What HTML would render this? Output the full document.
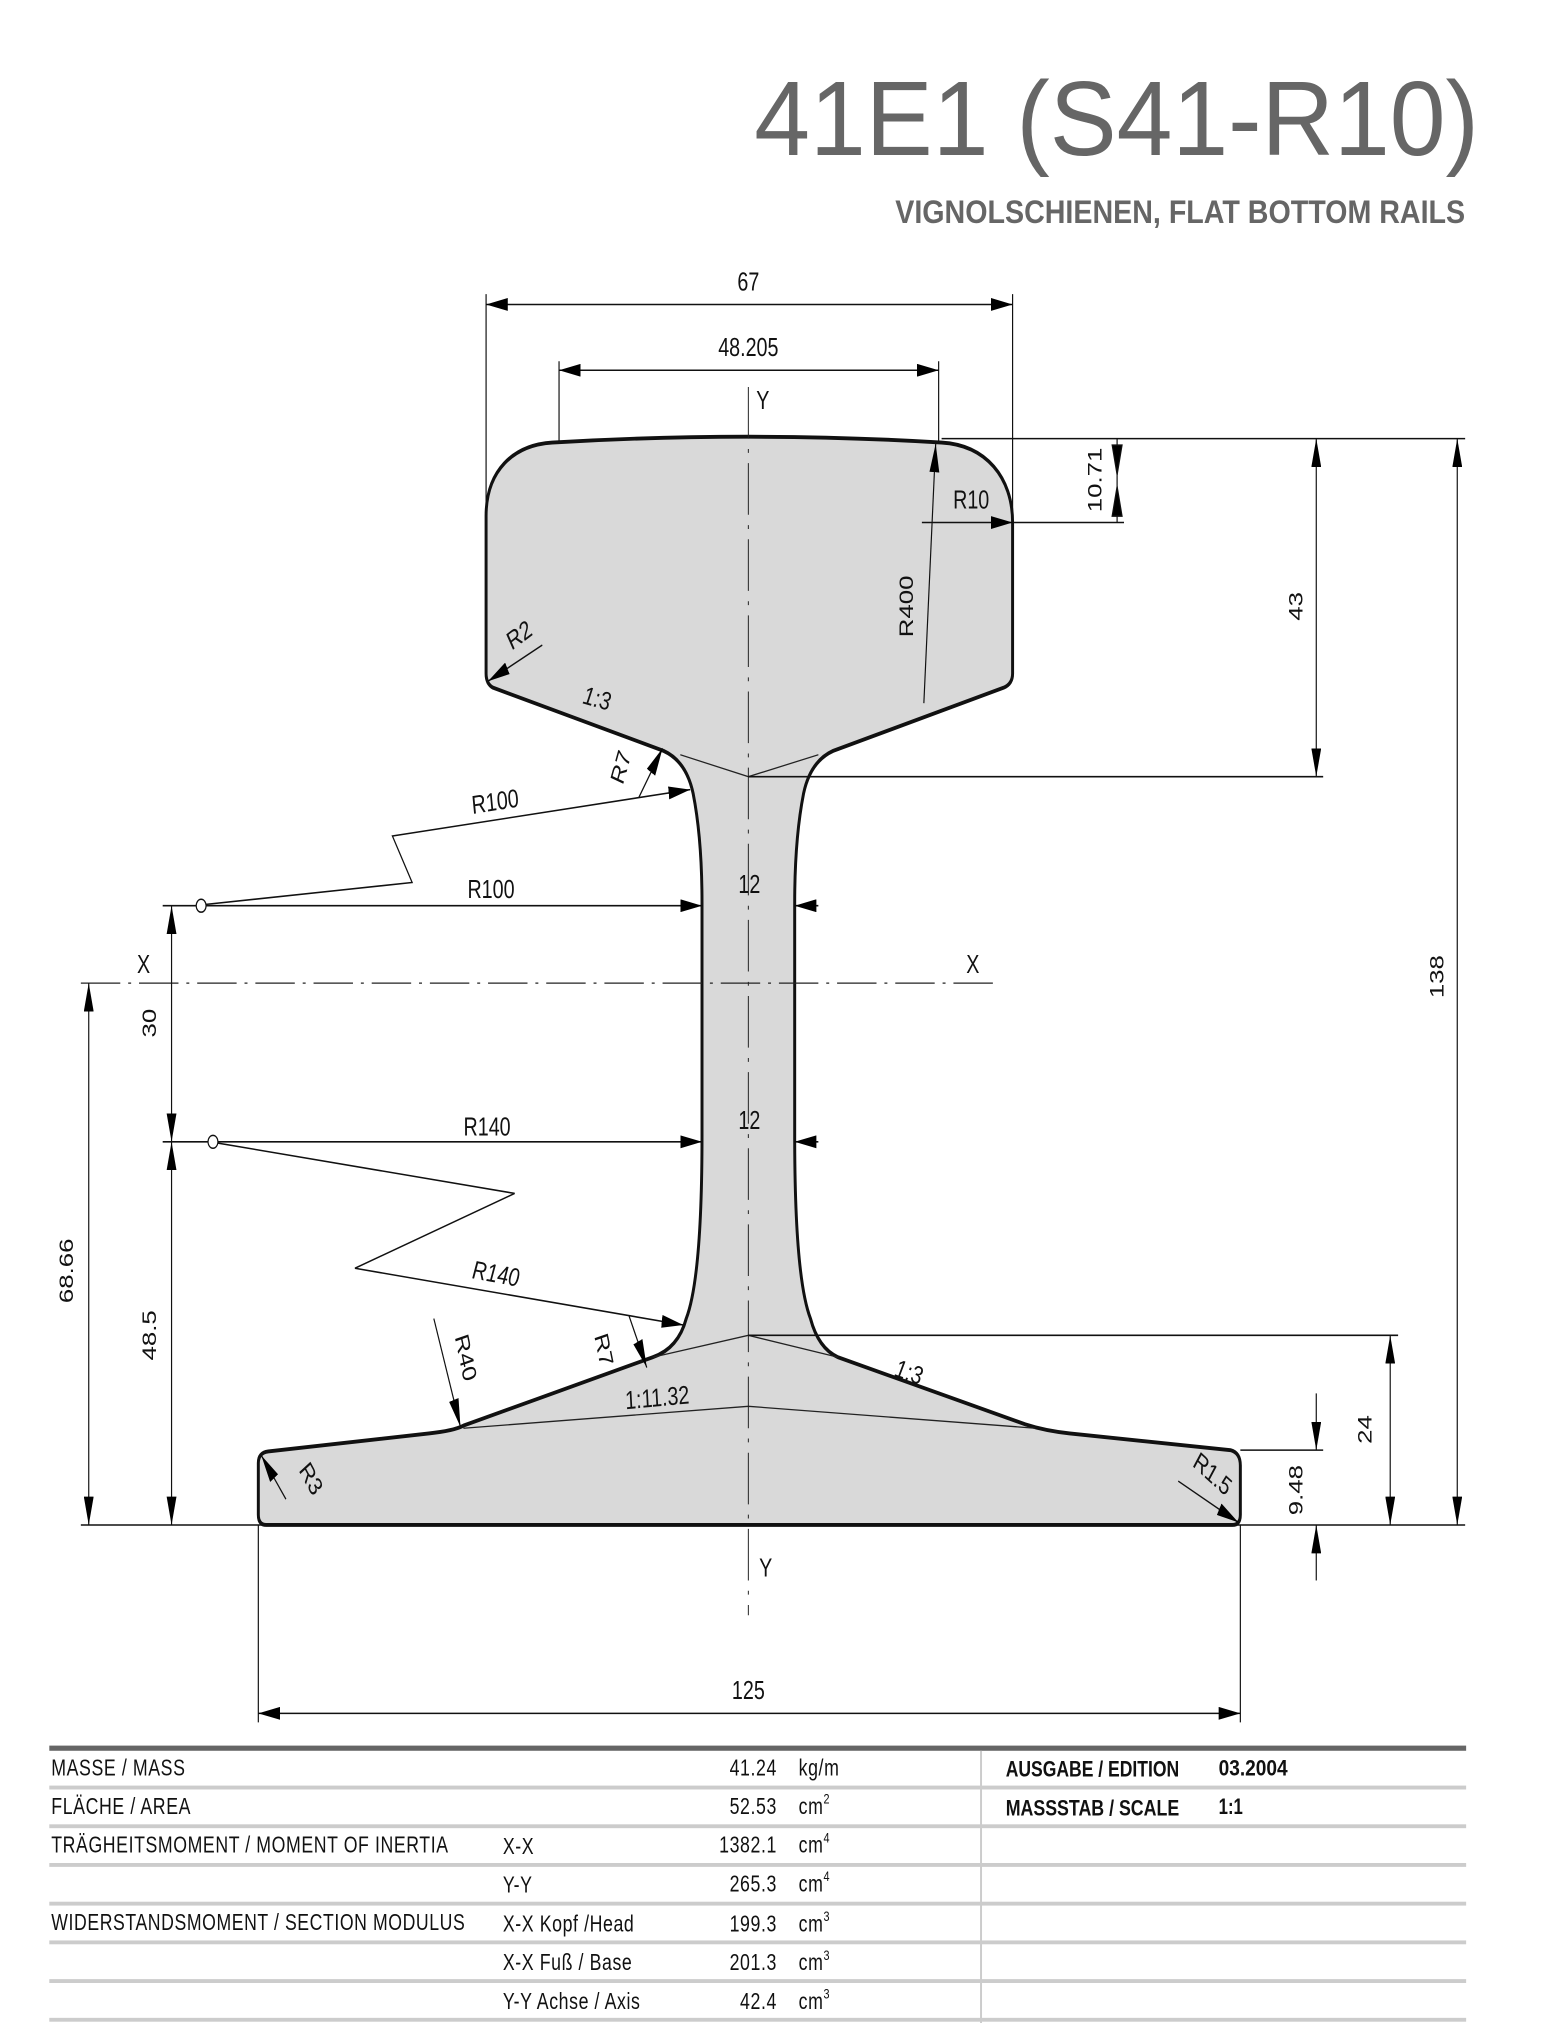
<!DOCTYPE html>
<html><head><meta charset="utf-8"><style>
html,body{margin:0;padding:0;background:#fff;}
svg{display:block;}
text{font-family:"Liberation Sans",sans-serif;}
</style></head><body>
<svg width="1546" height="2023" viewBox="0 0 1568 1568" preserveAspectRatio="none" xmlns="http://www.w3.org/2000/svg">
<defs>
<marker id="a" markerUnits="userSpaceOnUse" markerWidth="24" markerHeight="10" refX="22" refY="5" orient="auto"><path d="M0,0 L22,5 L0,10 Z" fill="#000"/></marker>
<marker id="s" markerUnits="userSpaceOnUse" markerWidth="24" markerHeight="10" refX="22" refY="5" orient="auto-start-reverse"><path d="M0,0 L22,5 L0,10 Z" fill="#000"/></marker>
</defs>
<rect width="1568" height="1568" fill="#fff"/>
<text x="765" y="120" font-size="82" fill="#666" textLength="735" lengthAdjust="spacingAndGlyphs">41E1 (S41-R10)</text>
<text x="908" y="173" font-size="25" font-weight="bold" fill="#666" textLength="578" lengthAdjust="spacingAndGlyphs">VIGNOLSCHIENEN, FLAT BOTTOM RAILS</text>

<path d="M493,400 C493,365 520,345 560,343 Q759,334 955,343 C1000,345 1027,370 1027,405 L1027,522 Q1027,530 1018,533 L845,582 Q822,590 815,615 Q806,650 806,700 L806,880 Q806,990 822,1022 Q830,1045 850,1052 L1040,1104 Q1060,1109 1085,1111 L1248,1124 Q1258,1126 1258,1136 L1258,1174 Q1258,1182 1250,1182 L270,1182 Q262,1182 262,1174 L262,1134 Q262,1126 272,1125 L435,1111 Q460,1109 470,1105 L662,1052 Q688,1045 696,1022 Q712,990 712,880 L712,700 Q712,650 703,615 Q696,590 673,582 L500,533 Q493,530 493,522 Z" fill="#d9d9d9" stroke="#111" stroke-width="3"/>
<g stroke="#222" stroke-width="1" fill="none">
<path d="M690,585 L759,602 L830,585"/>
<path d="M662,1052 L759,1035 L850,1052"/>
<path d="M470,1107 L759,1090 L1050,1107"/>
</g>
<g stroke="#222" stroke-width="1" stroke-dasharray="40,8,3,8" fill="none">
<line x1="759" y1="300" x2="759" y2="1252"/>
<line x1="82" y1="762" x2="1010" y2="762"/>
</g>
<g font-size="20" fill="#111">
<text x="767" y="317">Y</text><text x="770" y="1222">Y</text>
<text x="139" y="754">X</text><text x="980" y="754">X</text>
</g>
<g stroke="#111" stroke-width="1.2" fill="none">
<line x1="493" y1="228" x2="493" y2="398"/><line x1="1027" y1="228" x2="1027" y2="398"/>
<line x1="493" y1="236" x2="1027" y2="236" marker-start="url(#s)" marker-end="url(#a)"/>
<line x1="567" y1="280" x2="567" y2="343"/><line x1="952" y1="280" x2="952" y2="343"/>
<line x1="567" y1="287" x2="952" y2="287" marker-start="url(#s)" marker-end="url(#a)"/>
<line x1="955" y1="340" x2="1486" y2="340"/>
<line x1="1027" y1="405" x2="1140" y2="405"/>
<line x1="1133" y1="340" x2="1133" y2="405"/>
<path d="M1128,345 L1133,368 L1138,345 Z" fill="#000"/>
<path d="M1128,400 L1133,377 L1138,400 Z" fill="#000"/>
<line x1="1335" y1="340" x2="1335" y2="602" marker-start="url(#s)" marker-end="url(#a)"/>
<line x1="759" y1="602" x2="1342" y2="602"/>
<line x1="1478" y1="340" x2="1478" y2="1182" marker-start="url(#s)" marker-end="url(#a)"/>
<line x1="82" y1="1182" x2="1486" y2="1182"/>
<line x1="759" y1="1035" x2="1418" y2="1035"/>
<line x1="1410" y1="1035" x2="1410" y2="1182" marker-start="url(#s)" marker-end="url(#a)"/>
<line x1="1258" y1="1124" x2="1342" y2="1124"/>
<line x1="1335" y1="1080" x2="1335" y2="1124" marker-end="url(#a)"/>
<line x1="1335" y1="1225" x2="1335" y2="1182" marker-end="url(#a)"/>
<line x1="262" y1="1182" x2="262" y2="1335"/><line x1="1258" y1="1182" x2="1258" y2="1335"/>
<line x1="262" y1="1328" x2="1258" y2="1328" marker-start="url(#s)" marker-end="url(#a)"/>
<line x1="90" y1="762" x2="90" y2="1182" marker-start="url(#s)" marker-end="url(#a)"/>
<line x1="174" y1="702" x2="174" y2="885" marker-start="url(#s)" marker-end="url(#a)"/>
<line x1="174" y1="885" x2="174" y2="1182" marker-start="url(#s)" marker-end="url(#a)"/>
<line x1="165" y1="702" x2="712" y2="702" marker-end="url(#a)"/>
<line x1="830" y1="702" x2="806" y2="702" marker-end="url(#a)"/>
<line x1="165" y1="885" x2="712" y2="885" marker-end="url(#a)"/>
<line x1="830" y1="885" x2="806" y2="885" marker-end="url(#a)"/>
<circle cx="204" cy="702" r="5" fill="#fff"/>
<circle cx="216" cy="885" r="5" fill="#fff"/>
<polyline points="209,701 418,684 398,648 700,612" marker-end="url(#a)"/>
<polyline points="221,886 522,925 360,983 693,1027" marker-end="url(#a)"/>
<line x1="648" y1="618" x2="672" y2="580" marker-end="url(#a)"/>
<line x1="638" y1="1020" x2="656" y2="1060" marker-end="url(#a)"/>
<line x1="440" y1="1022" x2="467" y2="1106" marker-end="url(#a)"/>
<line x1="550" y1="500" x2="495" y2="528" marker-end="url(#a)"/>
<line x1="935" y1="405" x2="1027" y2="405" marker-end="url(#a)"/>
<line x1="937" y1="545" x2="949" y2="344" marker-end="url(#a)"/>
<line x1="290" y1="1162" x2="265" y2="1128" marker-end="url(#a)"/>
<line x1="1195" y1="1148" x2="1256" y2="1180" marker-end="url(#a)"/>
</g>
<g font-size="20" fill="#111" text-anchor="middle">
<text x="759" y="225">67</text>
<text x="759" y="276">48.205</text>
<text x="985" y="394">R10</text>
<text x="498" y="696">R100</text>
<text x="760" y="692">12</text>
<text x="494" y="880">R140</text>
<text x="760" y="875">12</text>
<text x="759" y="1317">125</text>
<text transform="translate(1117,372) rotate(-90)">10.71</text>
<text transform="translate(1321,470) rotate(-90)">43</text>
<text transform="translate(1464,757) rotate(-90)">138</text>
<text transform="translate(1391,1108) rotate(-90)">24</text>
<text transform="translate(1321,1155) rotate(-90)">9.48</text>
<text transform="translate(74,985) rotate(-90)">68.66</text>
<text transform="translate(158,793) rotate(-90)">30</text>
<text transform="translate(158,1035) rotate(-90)">48.5</text>
<text transform="translate(926,470) rotate(-90)">R400</text>
<text transform="translate(530,498) rotate(-30)">R2</text>
<text transform="translate(604,548) rotate(12)" font-style="italic">1:3</text>
<text transform="translate(636,597) rotate(-70)">R7</text>
<text transform="translate(503,628) rotate(-7)">R100</text>
<text transform="translate(502,994) rotate(8)" font-style="italic">R140</text>
<text transform="translate(606,1048) rotate(75)">R7</text>
<text transform="translate(466,1054) rotate(75)">R40</text>
<text transform="translate(920,1070) rotate(15)" font-style="italic">1:3</text>
<text transform="translate(667,1090) rotate(-4)">1:11.32</text>
<text transform="translate(310,1150) rotate(55)">R3</text>
<text transform="translate(1226,1148) rotate(35)">R1.5</text>
</g>

<rect x="50" y="1353" width="1437" height="4" fill="#666"/>
<g fill="#ccc">
<rect x="50" y="1384" width="1437" height="3"/>
<rect x="50" y="1414" width="1437" height="3"/>
<rect x="50" y="1444" width="1437" height="3"/>
<rect x="50" y="1474" width="1437" height="3"/>
<rect x="50" y="1504" width="1437" height="3"/>
<rect x="50" y="1534" width="1437" height="3"/>
<rect x="50" y="1564" width="1437" height="3"/>
<rect x="994" y="1357" width="2" height="211"/>
</g>
<g font-size="18" fill="#111" letter-spacing="0.6">
<text x="52" y="1376">MASSE / MASS</text>
<text x="52" y="1406">FLÄCHE / AREA</text>
<text x="52" y="1436" textLength="403" lengthAdjust="spacingAndGlyphs">TRÄGHEITSMOMENT / MOMENT OF INERTIA</text>
<text x="52" y="1496" textLength="420" lengthAdjust="spacingAndGlyphs">WIDERSTANDSMOMENT / SECTION MODULUS</text>
<text x="510" y="1437">X-X</text>
<text x="510" y="1467">Y-Y</text>
<text x="510" y="1497">X-X Kopf /Head</text>
<text x="510" y="1527">X-X Fuß / Base</text>
<text x="510" y="1557">Y-Y Achse / Axis</text>
<g text-anchor="end">
<text x="788" y="1376">41.24</text>
<text x="788" y="1406">52.53</text>
<text x="788" y="1436">1382.1</text>
<text x="788" y="1466">265.3</text>
<text x="788" y="1497">199.3</text>
<text x="788" y="1527">201.3</text>
<text x="788" y="1557">42.4</text>
</g>
<text x="810" y="1376">kg/m</text>
<text x="810" y="1406">cm<tspan font-size="11" dy="-8">2</tspan></text>
<text x="810" y="1436">cm<tspan font-size="11" dy="-8">4</tspan></text>
<text x="810" y="1466">cm<tspan font-size="11" dy="-8">4</tspan></text>
<text x="810" y="1497">cm<tspan font-size="11" dy="-8">3</tspan></text>
<text x="810" y="1527">cm<tspan font-size="11" dy="-8">3</tspan></text>
<text x="810" y="1557">cm<tspan font-size="11" dy="-8">3</tspan></text>
</g>
<g font-size="17" fill="#111" font-weight="bold">
<text x="1020" y="1377" textLength="176" lengthAdjust="spacingAndGlyphs">AUSGABE / EDITION</text>
<text x="1236" y="1376" textLength="70" lengthAdjust="spacingAndGlyphs">03.2004</text>
<text x="1020" y="1407" textLength="176" lengthAdjust="spacingAndGlyphs">MASSSTAB / SCALE</text>
<text x="1236" y="1406">1:1</text>
</g>
</svg>
</body></html>
